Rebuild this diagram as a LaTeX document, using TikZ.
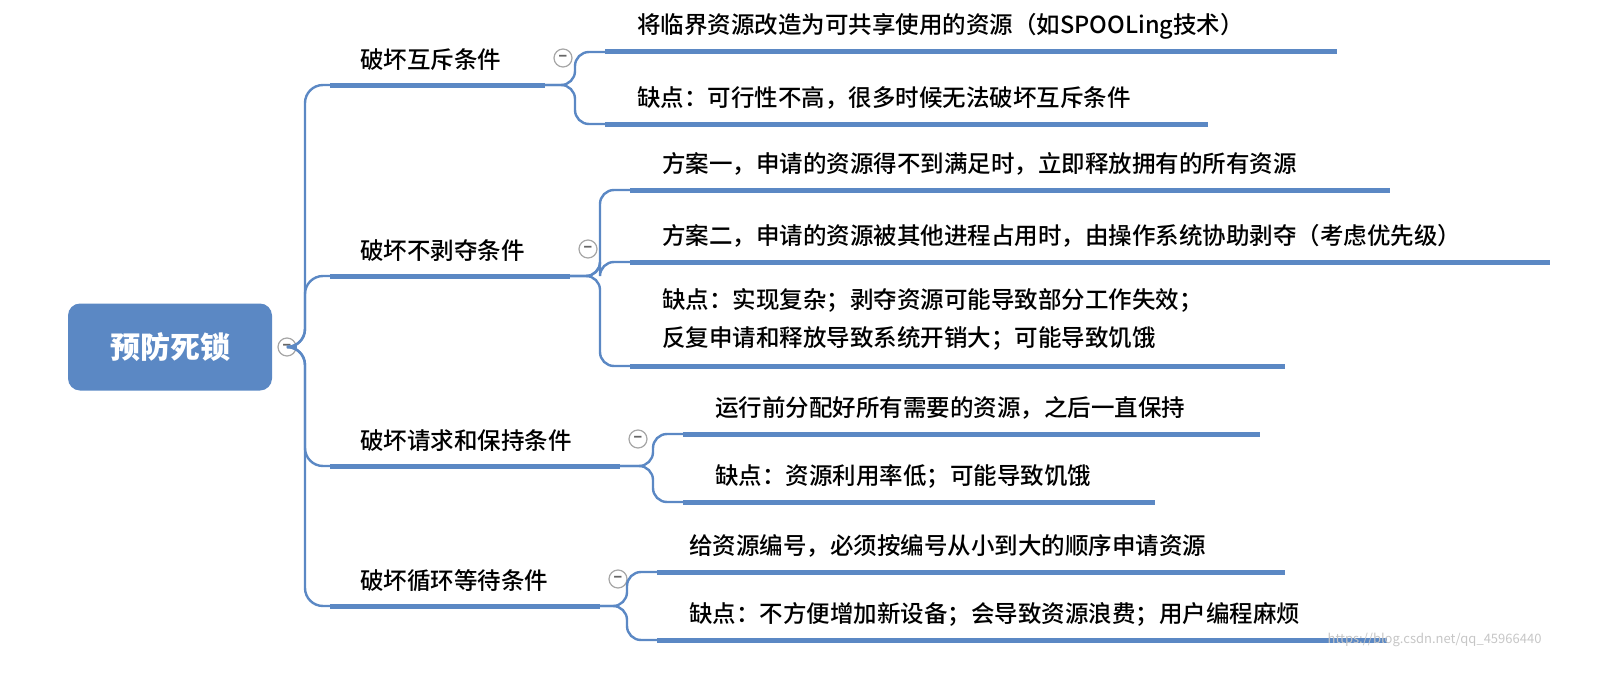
\documentclass[tikz,border=0pt]{standalone}
\usepackage{fontspec}
\setmainfont{Noto Sans CJK SC}
\newfontfamily\midfont{Noto Sans CJK SC Medium}
\usetikzlibrary{positioning}
\definecolor{mapblue}{HTML}{5B88C4}
\begin{document}
\begin{tikzpicture}[x=1pt,y=-1pt,
  topic/.style={anchor=west,inner sep=0pt,font=\midfont\fontsize{23.5}{28}\selectfont},
  bar/.style={mapblue,line width=5pt},
  link/.style={mapblue,line width=2.4pt,rounded corners=18pt},
  fold/.style={circle,draw=gray!70,fill=white,line width=1.2pt,minimum size=18pt,inner sep=0pt,
    font=\fontsize{14}{14}\selectfont\bfseries,text=gray!80!black}]
 \useasboundingbox (0,0) rectangle (1614,677);
 \node[fill=mapblue,rounded corners=12pt,minimum width=204pt,minimum height=87pt,text=white,
  font=\fontsize{30}{30}\selectfont\bfseries] (root) at (170,347) {预防死锁};
 \node[fold] (rf) at (287,347) {−};
 % level one
 \foreach \N/\Y/\E/\T in {a/85/545/破坏互斥条件, b/276/570/破坏不剥夺条件,
   c/466/620/破坏请求和保持条件, d/606/600/破坏循环等待条件} {
   \node[topic] (\N) at (360,\Y-25) {\T};
   \coordinate (\N s) at (330,\Y);
   \coordinate (\N e) at (\E,\Y);
   \draw[bar] (\N s) -- (\N e);
   \draw[link] (rf.east) -- (305,347) |- (\N s);
   \node[fold] (\N f) at (\E+18,\Y-27) {−};
 }
 % level two
 \foreach \P/\J/\Y/\E/\T in {a/605/52/1337/将临界资源改造为可共享使用的资源（如SPOOLing技术）,
   a/605/124/1208/缺点：可行性不高，很多时候无法破坏互斥条件,
   b/630/190/1390/方案一，申请的资源得不到满足时，立即释放拥有的所有资源,
   b/630/262/1550/方案二，申请的资源被其他进程占用时，由操作系统协助剥夺（考虑优先级）,
   c/683/434/1260/运行前分配好所有需要的资源，之后一直保持,
   c/683/502/1155/缺点：资源利用率低；可能导致饥饿,
   d/657/572/1285/给资源编号，必须按编号从小到大的顺序申请资源,
   d/657/640/1387/缺点：不方便增加新设备；会导致资源浪费；用户编程麻烦} {
   \coordinate (k) at (\J,\Y);
   \draw[bar] (k) -- (\E,\Y);
   \draw[link,rounded corners=14pt] (\P e) -- (\J-30,0 |- \P e) |- (k);
   \node[topic] at (\J+32,\Y-26) {\T};
 }
 % the long one
 \coordinate (bk) at (630,366);
 \draw[bar] (bk) -- (1285,366);
 \draw[link,rounded corners=14pt] (be) -- (600,276) |- (bk);
 \node[topic,align=left,font=\midfont\fontsize{23.5}{38}\selectfont] at (662,319)
  {缺点：实现复杂；剥夺资源可能导致部分工作失效；\\反复申请和释放导致系统开销大；可能导致饥饿};
 \node[anchor=east,text=gray!45,font=\fontsize{13}{13}\selectfont] (wm) at (1545,640)
  {https://blog.csdn.net/qq\_45966440};
\end{tikzpicture}
\end{document}
